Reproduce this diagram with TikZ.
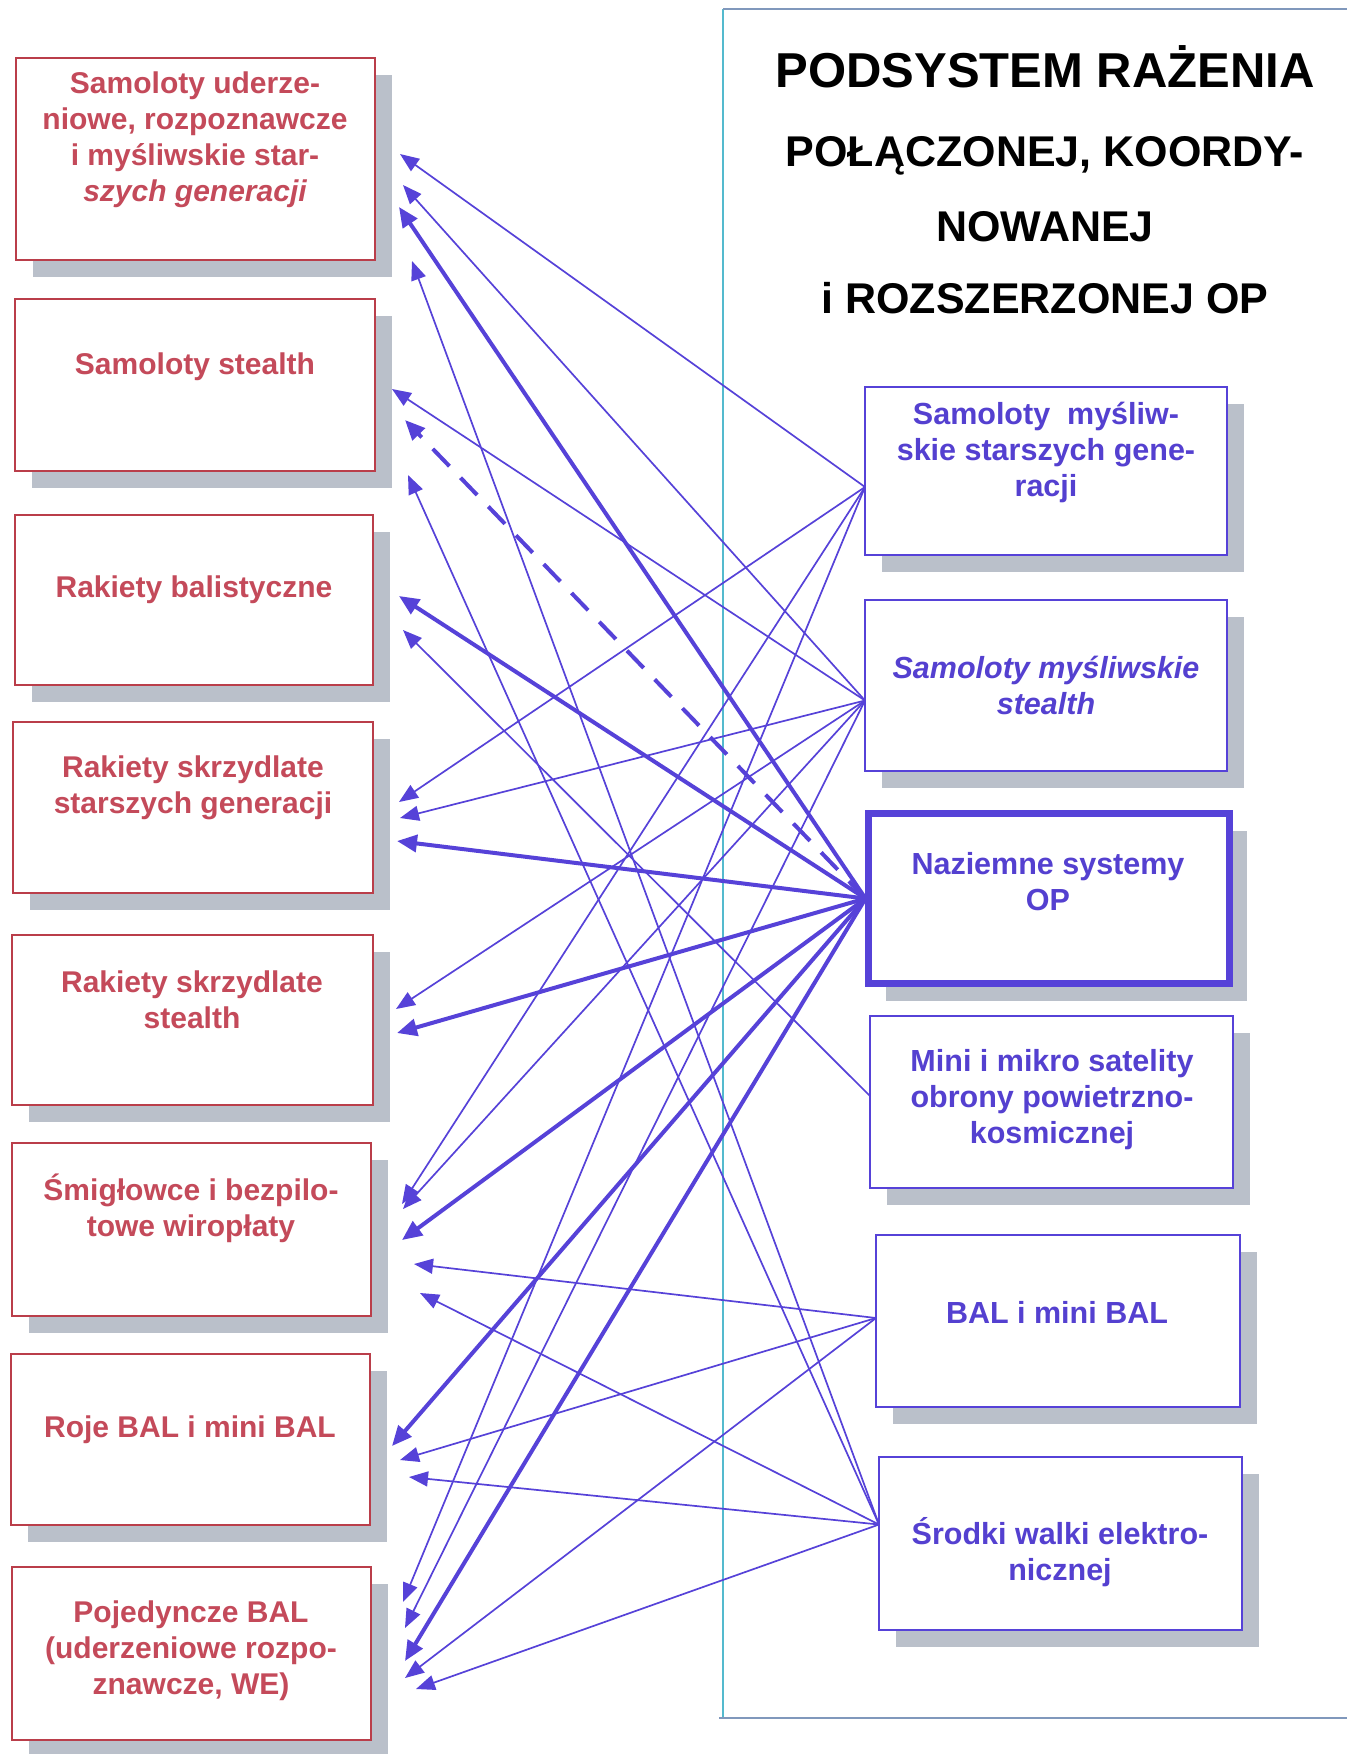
\documentclass[tikz,border=0pt]{standalone}
\usepackage{fontspec}
\setmainfont{Liberation Sans}
\usetikzlibrary{arrows.meta,calc,shadows}
\definecolor{redtxt}{RGB}{196,74,90}
\definecolor{redline}{RGB}{186,62,74}
\definecolor{bluetxt}{RGB}{84,64,208}
\definecolor{blueline}{RGB}{86,66,216}
\definecolor{shade}{RGB}{186,192,202}
\definecolor{paneledge}{RGB}{84,186,206}
\definecolor{panelrule}{RGB}{128,152,188}

\begin{document}
\begin{tikzpicture}[x=1pt,y=-1pt,
  boxshadow/.style={drop shadow={shadow xshift=17pt,shadow yshift=-17pt,fill=shade,opacity=1}},
  lbox/.style={draw=redline,line width=1.4pt,fill=white,inner sep=0pt,outer sep=0pt,boxshadow},
  rbox/.style={draw=blueline,line width=1.4pt,fill=white,inner sep=0pt,outer sep=0pt,boxshadow},
  mainbox/.style={draw=blueline,line width=7pt,fill=white,inner sep=0pt,outer sep=0pt,boxshadow},
  ltext/.style={text=redtxt,align=center,inner sep=0pt,font=\fontsize{30}{36}\selectfont\bfseries},
  rtext/.style={text=bluetxt,align=center,inner sep=0pt,font=\fontsize{30.5}{36}\selectfont\bfseries},
  title/.style={anchor=base,inner sep=0pt,font=\fontsize{43}{50}\selectfont\bfseries},
  thin/.style={draw=blueline,line width=1.7pt,-{Triangle[length=19pt,width=15pt]}},
  thick/.style={draw=blueline,line width=4pt,-{Triangle[length=20pt,width=17pt]}},
  dashline/.style={thick,dash pattern=on 24pt off 16pt}
]
\useasboundingbox (0,0) rectangle (1347,1754);

% frame of the right-hand panel
\draw[paneledge,line width=1.2pt] (723,9) -- (723,1718);
\draw[panelrule,line width=1.2pt] (723,9) -- (1347,9);
\draw[panelrule,line width=1.2pt] (719,1718) -- (1347,1718);

% panel title
\node[title,font=\fontsize{49}{54}\selectfont\bfseries] (t1) at (1045,87) {PODSYSTEM RAŻENIA};
\node[title] (t2) at (1045,166) {POŁĄCZONEJ, KOORDY-};
\node[title] (t3) at (1045,241) {NOWANEJ};
\node[title] (t4) at (1045,313) {i ROZSZERZONEJ OP};

% left column: threats
\node[lbox,minimum width=359pt,minimum height=202pt] (L1) at (195.5,159) {};
\node[lbox,minimum width=360pt,minimum height=172pt] (L2) at (195,385) {};
\node[lbox,minimum width=358pt,minimum height=170pt] (L3) at (194,600) {};
\node[lbox,minimum width=360pt,minimum height=171pt] (L4) at (193,807.5) {};
\node[lbox,minimum width=361pt,minimum height=170pt] (L5) at (192.5,1020) {};
\node[lbox,minimum width=359pt,minimum height=173pt] (L6) at (191.5,1229.5) {};
\node[lbox,minimum width=359pt,minimum height=171pt] (L7) at (190.5,1439.5) {};
\node[lbox,minimum width=359pt,minimum height=173pt] (L8) at (191.5,1653.5) {};

\node[ltext] (L1t) at (195,140) {Samoloty uderze-\\niowe, rozpoznawcze\\i myśliwskie star-\\{\itshape szych generacji}};
\node[ltext] (L2t) at (195,367) {Samoloty stealth};
\node[ltext] (L3t) at (194,590) {Rakiety balistyczne};
\node[ltext] (L4t) at (193,788) {Rakiety skrzydlate\\starszych generacji};
\node[ltext] (L5t) at (192,1000) {Rakiety skrzydlate\\stealth};
\node[ltext] (L6t) at (191,1208) {Śmigłowce i bezpilo-\\towe wiropłaty};
\node[ltext] (L7t) at (190,1430) {Roje BAL i mini BAL};
\node[ltext] (L8t) at (191,1651) {Pojedyncze BAL\\(uderzeniowe rozpo-\\znawcze, WE)};

% right column: air defence means
\node[rbox,minimum width=362pt,minimum height=168pt] (R1) at (1046,471) {};
\node[rbox,minimum width=362pt,minimum height=171pt] (R2) at (1046,685.5) {};
\node[mainbox,minimum width=361pt,minimum height=170pt] (R3) at (1049,898.5) {};
\node[rbox,minimum width=363pt,minimum height=172pt] (R4) at (1051.5,1102) {};
\node[rbox,minimum width=364pt,minimum height=172pt] (R5) at (1058,1321) {};
\node[rbox,minimum width=363pt,minimum height=173pt] (R6) at (1060.5,1543.5) {};

\node[rtext] (R1t) at (1046,452) {Samoloty\ \ myśliw-\\skie starszych gene-\\racji};
\node[rtext,font=\fontsize{30.5}{36}\selectfont\bfseries\itshape] (R2t) at (1046,685) {Samoloty myśliwskie\\stealth};
\node[rtext] (R3t) at (1048,882) {Naziemne systemy\\OP};
\node[rtext] (R4t) at (1052,1100) {Mini i mikro satelity\\obrony powietrzno-\\kosmicznej};
\node[rtext] (R5t) at (1057,1312) {BAL i mini BAL};
\node[rtext] (R6t) at (1060,1552) {Środki walki elektro-\\nicznej};

% connector origins on the right-hand boxes
\coordinate (s1) at ($(R1.west)+(0,16)$);
\coordinate (s2) at ($(R2.west)+(0,15)$);
\coordinate (s3) at ($(R3.west)+(-3,0)$);
\coordinate (s4) at ($(R4.west)+(0,-6)$);
\coordinate (s5) at ($(R5.west)+(0,-3)$);
\coordinate (s6) at ($(R6.west)+(0,-19)$);

% arrow tips beside the left-hand boxes
\coordinate (a1a) at (400,154);  \coordinate (a1b) at (403,185);
\coordinate (a1c) at (399,207);  \coordinate (a1d) at (412,261);
\coordinate (a2a) at (392,389);  \coordinate (a2b) at (405,420);
\coordinate (a2c) at (408,475);
\coordinate (a3a) at (399,596);  \coordinate (a3b) at (403,630);
\coordinate (a4a) at (399,802);  \coordinate (a4b) at (400,818);
\coordinate (a4c) at (397,841);
\coordinate (a5a) at (396,1009); \coordinate (a5b) at (397,1033);
\coordinate (a6a) at (402,1204); \coordinate (a6b) at (403,1209);
\coordinate (a6c) at (402,1240); \coordinate (a6d) at (414,1264);
\coordinate (a6e) at (420,1293);
\coordinate (a7a) at (392,1446); \coordinate (a7b) at (400,1460);
\coordinate (a7c) at (409,1477);
\coordinate (a8a) at (403,1602); \coordinate (a8b) at (405,1628);
\coordinate (a8c) at (405,1661); \coordinate (a8d) at (405,1678);
\coordinate (a8e) at (416,1689);

% older fighters
\draw[thin] (s1) -- (a1a);
\draw[thin] (s1) -- (a4a);
\draw[thin] (s1) -- (a6a);
\draw[thin] (s1) -- (a8a);
% stealth fighters
\draw[thin] (s2) -- (a1b);
\draw[thin] (s2) -- (a2a);
\draw[thin] (s2) -- (a4b);
\draw[thin] (s2) -- (a5a);
\draw[thin] (s2) -- (a6b);
\draw[thin] (s2) -- (a8b);
% ground-based air defence
\draw[thick] (s3) -- (a1c);
\draw[dashline] (s3) -- (a2b);
\draw[thick] (s3) -- (a3a);
\draw[thick] (s3) -- (a4c);
\draw[thick] (s3) -- (a5b);
\draw[thick] (s3) -- (a6c);
\draw[thick] (s3) -- (a7a);
\draw[thick] (s3) -- (a8c);
% satellites
\draw[thin] (s4) -- (a3b);
% UAVs
\draw[thin] (s5) -- (a6d);
\draw[thin] (s5) -- (a7b);
\draw[thin] (s5) -- (a8d);
% electronic warfare
\draw[thin] (s6) -- (a1d);
\draw[thin] (s6) -- (a2c);
\draw[thin] (s6) -- (a6e);
\draw[thin] (s6) -- (a7c);
\draw[thin] (s6) -- (a8e);
\end{tikzpicture}
\end{document}
